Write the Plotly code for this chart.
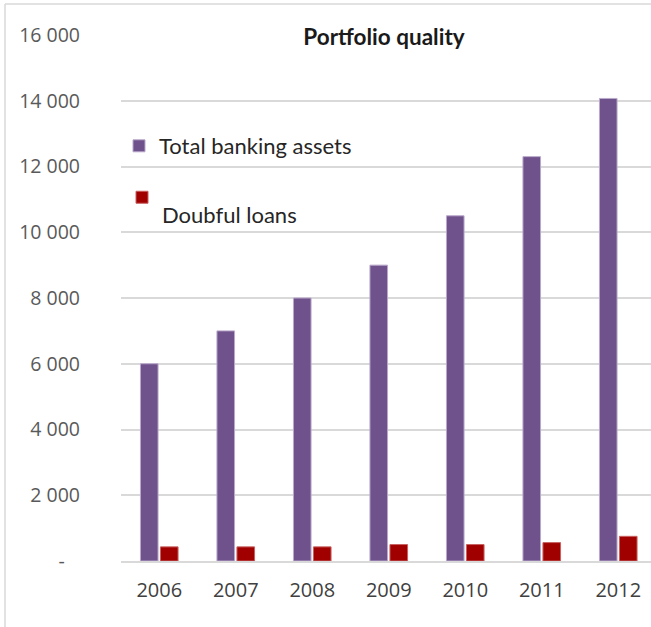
import plotly.graph_objects as go

years = ["2006", "2007", "2008", "2009", "2010", "2011", "2012"]
total_assets = [6000, 7000, 8000, 9000, 10500, 12300, 14070]
doubtful_loans = [430, 430, 430, 500, 500, 560, 750]
ytick_vals = [0, 2000, 4000, 6000, 8000, 10000, 12000, 14000, 16000]
ytick_text = ["-\u00a0\u00a0\u00a0", "2 000", "4 000", "6 000", "8 000", "10 000", "12 000", "14 000", "16 000"]
grid_vals = [2000, 4000, 6000, 8000, 10000, 12000, 14000]

PURPLE = "#6F518B"
RED = "#A00000"

W, H = 651, 627
ML, MR, MT, MB = 121, 0, 35, 66
pw = W - ML - MR
ph = H - MT - MB

fig = go.Figure()
fig.add_trace(go.Bar(x=years, y=total_assets, name="Total banking assets",
                     marker=dict(color=PURPLE, line=dict(color="#B9A9CB", width=1)),
                     legend="legend", showlegend=True))
fig.add_trace(go.Bar(x=years, y=doubtful_loans,
                     name="\u00a0<br><span style='font-size:22px'>Doubful loans</span>",
                     marker=dict(color=RED, line=dict(color="#C86060", width=1)),
                     legend="legend2", showlegend=True))

def px_x(p):
    return (p - ML) / pw

def px_y(p):
    return (H - MB - p) / ph

fig.update_layout(
    width=W, height=H,
    margin=dict(l=ML, r=MR, t=MT, b=MB),
    paper_bgcolor="white", plot_bgcolor="white",
    barmode="group", bargap=0.477, bargroupgap=0.12,
    font=dict(family="Open Sans", color="#595959", size=18),
    title=dict(text="<b>Portfolio quality</b>", x=384 / W, xanchor="center",
               y=1 - 37 / H, yanchor="middle",
               font=dict(family="Lato", size=22.5, color="#1a1a1a")),
    legend=dict(x=px_x(119), xanchor="left", y=px_y(146), yanchor="middle",
                bgcolor="rgba(0,0,0,0)", font=dict(family="Lato", size=22, color="#262626"),
                itemclick=False),
    legend2=dict(x=px_x(122), xanchor="left", y=px_y(181), yanchor="top", valign="top",
                 bgcolor="rgba(0,0,0,0)", font=dict(family="Lato", size=15, color="#262626"),
                 itemclick=False),
    xaxis=dict(range=[-0.5, -0.5 + pw / 76.5], showgrid=False, showline=True,
               linecolor="#d9d9d9", linewidth=2, ticks="", ticklabelstandoff=10,
               tickfont=dict(family="Open Sans", size=20, color="#404040")),
    yaxis=dict(range=[0, 16000], tickmode="array", tickvals=ytick_vals, ticktext=ytick_text,
               showgrid=False, zeroline=False, showline=False, ticks="",
               ticklabelstandoff=40,
               tickfont=dict(family="Open Sans", size=19.5, color="#595959"),
               minor=dict(tickmode="array", tickvals=grid_vals, showgrid=True,
                          gridcolor="#d9d9d9", gridwidth=1.5, ticks="")),
    shapes=[
        dict(type="line", xref="paper", yref="paper", x0=px_x(5), x1=px_x(5),
             y0=px_y(4), y1=px_y(H + 20), line=dict(color="#d9d9d9", width=1.5)),
        dict(type="line", xref="paper", yref="paper", x0=px_x(5), x1=px_x(W + 20),
             y0=px_y(4), y1=px_y(4), line=dict(color="#d9d9d9", width=1.5)),
    ],
)

fig.write_html("out.html")
